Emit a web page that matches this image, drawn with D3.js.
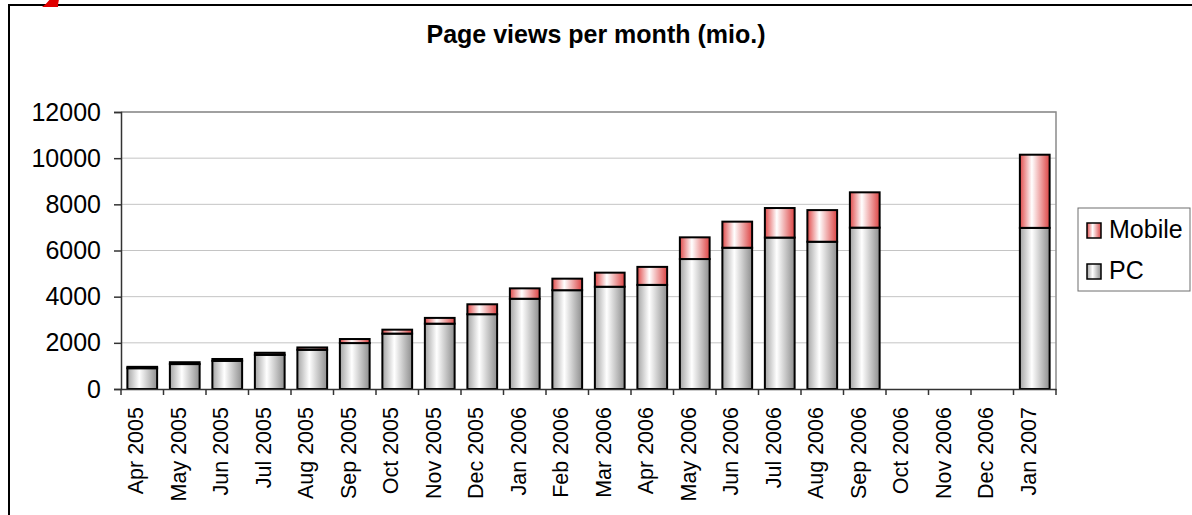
<!DOCTYPE html>
<html>
<head>
<meta charset="utf-8">
<script src="https://cdn.jsdelivr.net/npm/d3@7"></script>
<style>
  body { margin: 0; background: #fff; }
  svg { display: block; font-family: "Liberation Sans", Arial, sans-serif; }
</style>
</head>
<body>
<svg id="chart" width="1192" height="515"></svg>
<script>
// page views per month, in millions
const months = ["Apr 2005", "May 2005", "Jun 2005", "Jul 2005", "Aug 2005", "Sep 2005",
  "Oct 2005", "Nov 2005", "Dec 2005", "Jan 2006", "Feb 2006", "Mar 2006", "Apr 2006",
  "May 2006", "Jun 2006", "Jul 2006", "Aug 2006", "Sep 2006", "Oct 2006", "Nov 2006",
  "Dec 2006", "Jan 2007"];
const pc = [900, 1080, 1220, 1480, 1700, 1990, 2400, 2830, 3240, 3910, 4280, 4430, 4510,
  5630, 6120, 6560, 6380, 6990, null, null, null, 6980];
const mobile = [60, 80, 80, 90, 100, 175, 170, 250, 430, 450, 500, 610, 780,
  940, 1130, 1280, 1370, 1530, null, null, null, 3170];
const yTicks = [0, 2000, 4000, 6000, 8000, 10000, 12000];
const seriesNames = ["PC", "Mobile"];

const svg = d3.select("#chart");
const plot = { left: 121, right: 1056, top: 112, bottom: 389 };

// gradients for the bar fills
const defs = svg.append("defs");
function grad(id, edgeL, edgeR) {
  const g = defs.append("linearGradient").attr("id", id)
    .attr("x1", "0%").attr("x2", "100%").attr("y1", "0%").attr("y2", "0%");
  g.append("stop").attr("offset", "0%").attr("stop-color", edgeL);
  g.append("stop").attr("offset", "40%").attr("stop-color", "#ffffff");
  g.append("stop").attr("offset", "100%").attr("stop-color", edgeR);
}
grad("gPC", "#a4a4a4", "#8e8e8e");
grad("gMobile", "#e04a4a", "#dc4444");
const fills = { PC: "url(#gPC)", Mobile: "url(#gMobile)" };

// outer chart frame (runs off the right and bottom edge)
svg.append("rect")
  .attr("x", 9).attr("y", 5).attr("width", 1200).attr("height", 530)
  .attr("fill", "none").attr("stroke", "#000").attr("stroke-width", 2);

// bit of red decoration peeking in at top left
svg.append("path")
  .attr("d", "M42,7 Q48,3 52,-4 L60,-4 Q58,2 58,7 Z")
  .attr("fill", "#e00000");

const x = d3.scaleBand()
  .domain(months)
  .range([plot.left, plot.right])
  .paddingInner(0.3)
  .paddingOuter(0.15);

const y = d3.scaleLinear()
  .domain([0, 12000])
  .range([plot.bottom, plot.top]);

// grid
svg.append("g")
  .selectAll("line")
  .data(yTicks.slice(1))
  .enter()
  .append("line")
  .attr("x1", plot.left).attr("x2", plot.right)
  .attr("y1", d => y(d)).attr("y2", d => y(d))
  .attr("stroke", "#c4c4c4").attr("stroke-width", 1);

// plot area border (top and right)
svg.append("path")
  .attr("d", `M${plot.left},${y(12000)}H${plot.right}V${plot.bottom}`)
  .attr("fill", "none").attr("stroke", "#8a8a8a").attr("stroke-width", 1.5);

// stacked bars
const table = months.map((m, i) => ({ month: m, PC: pc[i] || 0, Mobile: mobile[i] || 0 }));
const stacked = d3.stack().keys(seriesNames)(table);

svg.append("g")
  .selectAll("g")
  .data(stacked)
  .enter()
  .append("g")
  .attr("fill", d => fills[d.key])
  .selectAll("rect")
  .data(d => d.filter(p => p[1] > p[0]))
  .enter()
  .append("rect")
  .attr("x", d => x(d.data.month))
  .attr("width", x.bandwidth())
  .attr("y", d => y(d[1]))
  .attr("height", d => y(d[0]) - y(d[1]))
  .attr("stroke", "#000")
  .attr("stroke-width", 2);

// y axis
const yAxis = svg.append("g")
  .attr("transform", `translate(${plot.left},0)`)
  .call(d3.axisLeft(y).tickValues(yTicks).tickSize(7).tickPadding(13).tickFormat(d3.format("d")));
yAxis.select(".domain").attr("stroke", "#333").attr("stroke-width", 1.5);
yAxis.selectAll(".tick line").attr("stroke", "#333").attr("stroke-width", 1.5);
yAxis.selectAll("text").attr("font-size", 25).attr("fill", "#000")
  .attr("font-family", "Liberation Sans, Arial, sans-serif");

// x axis, ticks sit between categories
const xAxis = svg.append("g")
  .attr("transform", `translate(0,${plot.bottom})`)
  .call(d3.axisBottom(x).tickSize(0).tickPadding(0));
xAxis.select(".domain").attr("stroke", "#333").attr("stroke-width", 1.5);
xAxis.selectAll(".tick text")
  .attr("font-size", 21.5)
  .attr("font-family", "Liberation Sans, Arial, sans-serif")
  .attr("fill", "#000")
  .attr("text-anchor", "end")
  .attr("transform", "rotate(-90)")
  .attr("x", -18)
  .attr("y", 0)
  .attr("dy", "0.05em");

const step = x.step();
xAxis.append("g")
  .selectAll("line")
  .data(d3.range(months.length + 1))
  .enter()
  .append("line")
  .attr("x1", k => plot.left + k * step)
  .attr("x2", k => plot.left + k * step)
  .attr("y1", 0).attr("y2", 6)
  .attr("stroke", "#333").attr("stroke-width", 1.5);

// title
svg.append("text")
  .attr("x", 596).attr("y", 43)
  .attr("text-anchor", "middle")
  .attr("font-size", 25)
  .attr("font-weight", "bold")
  .text("Page views per month (mio.)");

// legend
const legend = svg.append("g");
legend.append("rect")
  .attr("x", 1078).attr("y", 208).attr("width", 112).attr("height", 83)
  .attr("fill", "#fff").attr("stroke", "#6e6e6e").attr("stroke-width", 1);
const legendItems = ["Mobile", "PC"];
const li = legend.selectAll("g.item")
  .data(legendItems)
  .enter()
  .append("g")
  .attr("class", "item")
  .attr("transform", (d, i) => `translate(1087,${223 + i * 41})`);
li.append("rect")
  .attr("width", 14).attr("height", 15)
  .attr("fill", d => fills[d])
  .attr("stroke", "#000").attr("stroke-width", 1.5);
li.append("text")
  .attr("x", 22).attr("y", 15)
  .attr("font-size", 25)
  .text(d => d);
</script>
</body>
</html>
